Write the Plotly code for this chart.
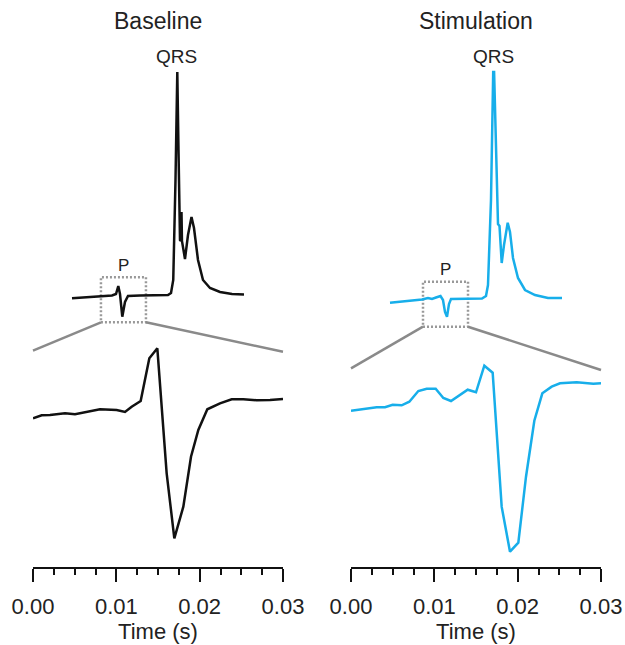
import plotly.graph_objects as go

# ---------------- data ----------------
# Top traces: full ECG complex (time in s, amplitude in a.u.)
base_full_t = [0.0, 0.00867, 0.01867, 0.02667, 0.02933, 0.03087, 0.032, 0.03353, 0.03533, 0.03733,
               0.04533, 0.05867, 0.064, 0.066, 0.0675, 0.069, 0.0698, 0.0702, 0.071, 0.072,
               0.0726, 0.0730, 0.0733, 0.07533, 0.07733, 0.07967, 0.08133, 0.084, 0.08733,
               0.092, 0.09867, 0.10667, 0.11467]
base_full_v = [-0.3, 0.5, 1.5, 2.5, 4, 12, 4, -18.7, -4, 2,
               2.5, 3, 3, 5, 18, 118, 226, 226, 148, 58,
               57, 86, 57, 39, 63, 81, 70, 38, 18,
               10, 6, 4, 3.5]

stim_full_t = [0.0, 0.01, 0.02133, 0.02533, 0.028, 0.03067, 0.03367, 0.03533, 0.03667, 0.038,
               0.03933, 0.04067, 0.05, 0.06133, 0.064, 0.06533, 0.06733, 0.0688, 0.0694, 0.07067,
               0.072, 0.073, 0.07447, 0.076, 0.07847, 0.08, 0.082, 0.08533, 0.09, 0.09667,
               0.10533, 0.11467]
stim_full_v = [-4.7, -3.5, -1.5, 0, -1, 0.5, 2, -2, -14, -18.7,
               -6, -1, -0.5, -0.5, 2, 13, 98, 226, 226, 148,
               74, 72, 35, 53, 75.3, 66, 40, 20, 8, 3,
               0, 0]

# P-wave window (zoom box) in the top traces
base_p_window_t = [0.0193, 0.0493]
base_p_window_v = [-24.3, 20.7]
stim_p_window_t = [0.022, 0.052]
stim_p_window_v = [-28.7, 16.3]

# Bottom traces: zoomed P wave
base_p_t = [0.0, 0.00104, 0.00204, 0.00384, 0.00504, 0.00644, 0.00804, 0.01004, 0.01104, 0.01184,
            0.01292, 0.01396, 0.01492, 0.01604, 0.01696, 0.01804, 0.01896, 0.01984, 0.02092, 0.02244,
            0.02384, 0.02524, 0.02684, 0.02844, 0.03]
base_p_v = [-8.3, -5.3, -5.0, -3.3, -4.3, -1.7, 0.7, 0.0, -2.0, 3.3,
            9.0, 51.7, 61.7, -63.3, -128.3, -96.7, -46.7, -20.0, 0.7, 6.7,
            10.7, 10.7, 9.7, 10.0, 11.0]

stim_p_t = [0.0, 0.00188, 0.00308, 0.00408, 0.005, 0.00608, 0.007, 0.00808, 0.00908, 0.01016,
            0.01108, 0.012, 0.013, 0.014, 0.015, 0.016, 0.017, 0.01808, 0.01908, 0.02008,
            0.021, 0.022, 0.02296, 0.02408, 0.02508, 0.02708, 0.02908, 0.03]
stim_p_v = [-0.7, 1.7, 2.7, 2.7, 5.3, 4.7, 8.3, 19.0, 21.3, 21.3,
            12.0, 9.0, 14.3, 20.3, 17.7, 44.3, 37.3, -96.7, -141.7, -132.7,
            -66.7, -10.7, 16.7, 23.3, 26.7, 27.7, 26.3, 26.7]

# zoom-line targets on the bottom panels (amplitude at t=0 and t=0.03)
base_zoom_target_v = [59.3, 58.3]
stim_zoom_target_v = [41.7, 40.0]

tick_vals = [0.0, 0.01, 0.02, 0.03]
tick_text = ["0.00", "0.01", "0.02", "0.03"]
panel_titles = ["Baseline", "Stimulation"]

# ---------------- layout geometry ----------------
OX, OY = 0, 0
W, H = 625, 645
FONT = "Liberation Sans, Arial, sans-serif"
BLACK = "#111111"
BLUE = "#17AEEA"
GRAY = "#8a8a8a"


def pxx(x):
    return (x - OX) / W


def pxy(y):
    return 1 - (y - OY) / H


xdom_left = [pxx(33), pxx(283)]
xdom_right = [pxx(351), pxx(601)]
ydom_bottom = [pxy(567), pxy(340)]
ydom_top = [pxy(330), pxy(40)]

bottom_x_range = [0, 0.03]
bottom_y_range = [-157, 70]
top_x_range = [-0.026, 0.14067]
top_y_range = [-32, 258]


def to_paper(val, dom, rng):
    return dom[0] + (val - rng[0]) / (rng[1] - rng[0]) * (dom[1] - dom[0])


fig = go.Figure()

fig.add_trace(go.Scatter(x=base_p_t, y=base_p_v, mode="lines",
                         line=dict(color=BLACK, width=2.5), xaxis="x", yaxis="y"))
fig.add_trace(go.Scatter(x=stim_p_t, y=stim_p_v, mode="lines",
                         line=dict(color=BLUE, width=2.5), xaxis="x2", yaxis="y2"))
fig.add_trace(go.Scatter(x=base_full_t, y=base_full_v, mode="lines",
                         line=dict(color=BLACK, width=2.5), xaxis="x3", yaxis="y3"))
fig.add_trace(go.Scatter(x=stim_full_t, y=stim_full_v, mode="lines",
                         line=dict(color=BLUE, width=2.5), xaxis="x4", yaxis="y4"))

bottom_xaxis = dict(
    range=bottom_x_range, showgrid=False, zeroline=False, showline=True, automargin=False,
    linecolor=BLACK, linewidth=2, ticks="outside", ticklen=13, tickwidth=2,
    tickcolor=BLACK, tickvals=tick_vals, ticktext=tick_text,
    tickfont=dict(family=FONT, size=22, color="#222"),
    ticklabelstandoff=6,
    minor=dict(dtick=0.0025, ticks="outside", ticklen=6, tickwidth=2, tickcolor=BLACK, showgrid=False),
    title=dict(text="Time (s)", font=dict(family=FONT, size=22, color="#222"), standoff=1),
    fixedrange=True,
)
hidden = dict(visible=False, showgrid=False, zeroline=False, fixedrange=True, automargin=False)

fig.update_layout(
    width=W, height=H, margin=dict(l=0, r=0, t=0, b=0, autoexpand=False),
    paper_bgcolor="white", plot_bgcolor="rgba(0,0,0,0)", showlegend=False,
    hovermode=False,
    xaxis=dict(domain=xdom_left, anchor="y", **bottom_xaxis),
    xaxis2=dict(domain=xdom_right, anchor="y2", **bottom_xaxis),
    yaxis=dict(domain=ydom_bottom, range=bottom_y_range, anchor="x", **hidden),
    yaxis2=dict(domain=ydom_bottom, range=bottom_y_range, anchor="x2", **hidden),
    xaxis3=dict(domain=xdom_left, range=top_x_range, anchor="y3", **hidden),
    yaxis3=dict(domain=ydom_top, range=top_y_range, anchor="x3", **hidden),
    xaxis4=dict(domain=xdom_right, range=top_x_range, anchor="y4", **hidden),
    yaxis4=dict(domain=ydom_top, range=top_y_range, anchor="x4", **hidden),
)

shapes = []
annotations = []
panels = [
    (xdom_left, "x3", "y3", base_p_window_t, base_p_window_v, base_zoom_target_v, base_full_t, base_full_v),
    (xdom_right, "x4", "y4", stim_p_window_t, stim_p_window_v, stim_zoom_target_v, stim_full_t, stim_full_v),
]
for i, (xdom, xr, yr, pwt, pwv, ztv, ft, fv) in enumerate(panels):
    # dotted box around P wave
    shapes.append(dict(type="rect", xref=xr, yref=yr, x0=pwt[0], x1=pwt[1], y0=pwv[0], y1=pwv[1],
                       line=dict(color="#999999", width=2.5, dash="2px,2px"), layer="below"))
    # zoom lines from box bottom corners to the bottom panel
    bx0 = to_paper(pwt[0], xdom, top_x_range)
    bx1 = to_paper(pwt[1], xdom, top_x_range)
    by = to_paper(pwv[0], ydom_top, top_y_range)
    tx0 = to_paper(bottom_x_range[0], xdom, bottom_x_range)
    tx1 = to_paper(bottom_x_range[1], xdom, bottom_x_range)
    ty0 = to_paper(ztv[0], ydom_bottom, bottom_y_range)
    ty1 = to_paper(ztv[1], ydom_bottom, bottom_y_range)
    shapes.append(dict(type="line", xref="paper", yref="paper", x0=bx0, y0=by, x1=tx0, y1=ty0,
                       line=dict(color=GRAY, width=2.5)))
    shapes.append(dict(type="line", xref="paper", yref="paper", x0=bx1, y0=by, x1=tx1, y1=ty1,
                       line=dict(color=GRAY, width=2.5)))
    # labels
    peak_i = max(range(len(fv)), key=lambda k: fv[k])
    annotations.append(dict(xref=xr, yref=yr, x=ft[peak_i], y=fv[peak_i] + 16, text="QRS",
                            showarrow=False, xanchor="center", yanchor="middle",
                            font=dict(family=FONT, size=19, color="#222")))
    annotations.append(dict(xref=xr, yref=yr, x=(pwt[0] + pwt[1]) / 2, y=pwv[1] + 12, text="P",
                            showarrow=False, xanchor="center", yanchor="middle",
                            font=dict(family=FONT, size=17, color="#222")))
    annotations.append(dict(xref="paper", yref="paper", x=(xdom[0] + xdom[1]) / 2, y=pxy(21),
                            text=panel_titles[i], showarrow=False, xanchor="center", yanchor="middle",
                            font=dict(family=FONT, size=23, color="#222")))

fig.update_layout(shapes=shapes, annotations=annotations)
fig.write_html("out.html", config={"displayModeBar": False, "staticPlot": True},
               post_script="document.body.style.margin='0';document.body.style.overflow='hidden';")
